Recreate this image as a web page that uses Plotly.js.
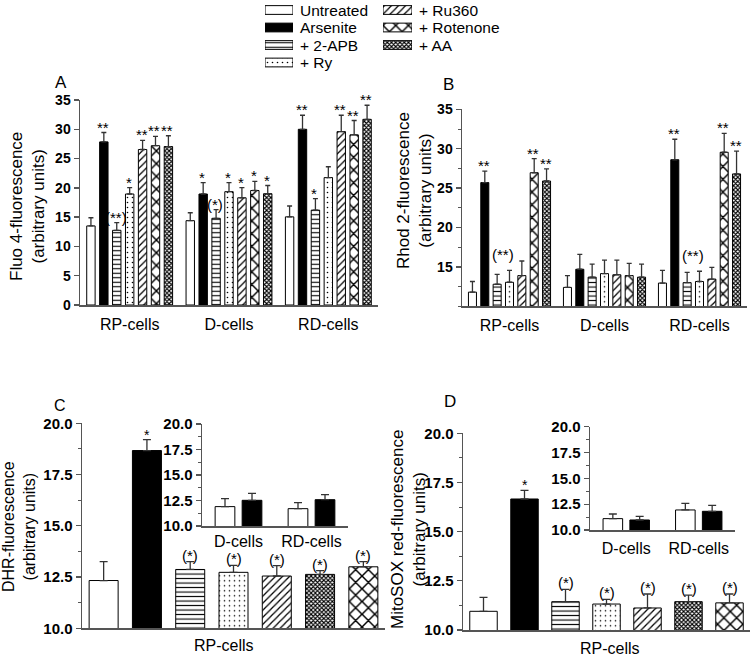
<!DOCTYPE html>
<html><head><meta charset="utf-8">
<script src="https://cdn.plot.ly/plotly-3.0.1.min.js"></script>
<style>html,body{margin:0;padding:0;background:#fff}</style>
</head><body><div id="chart" style="width:750px;height:656px"></div>
<script>
// ---------- DATA ----------
const treatments = ["Untreated", "Arsenite", "+ 2-APB", "+ Ry", "+ Ru360", "+ Rotenone", "+ AA"];
const cellTypes = ["RP-cells", "D-cells", "RD-cells"];
const insetCells = ["D-cells", "RD-cells"];
// order of the single-group panels C and D
const rpTreatments = ["Untreated", "Arsenite", "+ 2-APB", "+ Ry", "+ Ru360", "+ AA", "+ Rotenone"];
// legend columns
const legendCol1 = ["Untreated", "Arsenite", "+ 2-APB", "+ Ry"];
const legendCol2 = ["+ Ru360", "+ Rotenone", "+ AA"];

// Panel A: Fluo 4-fluorescence (treatment order as `treatments`)
const fluoRP = [13.5, 27.85, 12.75, 18.95, 26.55, 27.2, 27.05];
const fluoRPErr = [1.4, 1.6, 1.3, 1.1, 1.55, 1.6, 1.85];
const fluoD = [14.4, 18.95, 14.8, 19.35, 18.3, 19.55, 19.0];
const fluoDErr = [1.35, 1.95, 1.5, 1.55, 1.75, 1.55, 1.4];
const fluoRD = [15.05, 30.0, 16.2, 21.75, 29.6, 29.05, 31.7];
const fluoRDErr = [1.85, 2.4, 1.95, 1.85, 2.8, 2.45, 2.4];
const fluoStarsRP = ["", "**", "(**)", "*", "**", "**", "**"];
const fluoStarsD = ["", "*", "(*)", "*", "*", "*", "*"];
const fluoStarsRD = ["", "**", "*", "", "**", "**", "**"];

// Panel B: Rhod 2-fluorescence
const rhodRP = [11.8, 25.7, 12.8, 13.05, 13.9, 26.95, 25.9];
const rhodRPErr = [1.35, 1.45, 1.25, 1.5, 1.85, 1.8, 1.55];
const rhodD = [12.4, 14.7, 13.7, 14.15, 14.0, 13.9, 13.7];
const rhodDErr = [1.5, 1.9, 1.65, 1.7, 1.85, 1.55, 1.65];
const rhodRD = [12.95, 28.6, 13.0, 13.15, 13.45, 29.55, 26.8];
const rhodRDErr = [1.6, 2.6, 1.3, 1.3, 1.5, 2.4, 2.9];
const rhodStarsRP = ["", "**", "", "", "", "**", "**"];
const rhodStarsD = ["", "", "", "", "", "", ""];
const rhodStarsRD = ["", "**", "", "", "", "**", "**"];
const rhodPairLabel = "(**)";

// Panel C: DHR-fluorescence (order as `rpTreatments`)
const dhrRP = [12.33, 18.67, 12.87, 12.73, 12.55, 12.63, 13.0];
const dhrRPErr = [0.92, 0.53, 0.38, 0.34, 0.51, 0.18, 0.25];
const dhrStars = ["", "*", "(*)", "(*)", "(*)", "(*)", "(*)"];
const dhrInsetUntreated = [11.9, 11.7];
const dhrInsetUntreatedErr = [0.78, 0.59];
const dhrInsetArsenite = [12.52, 12.58];
const dhrInsetArseniteErr = [0.68, 0.49];

// Panel D: MitoSOX red-fluorescence
const mitoRP = [10.95, 16.66, 11.44, 11.32, 11.12, 11.44, 11.38];
const mitoRPErr = [0.71, 0.44, 0.63, 0.24, 0.71, 0.33, 0.45];
const mitoStars = ["", "*", "(*)", "(*)", "(*)", "(*)", "(*)"];
const mitoInsetUntreated = [11.1, 11.94];
const mitoInsetUntreatedErr = [0.45, 0.64];
const mitoInsetArsenite = [10.97, 11.81];
const mitoInsetArseniteErr = [0.35, 0.58];

// ---------- STYLE ----------
const FONT = "Liberation Sans, Arial, sans-serif";
const AX = "#555";
const ERR = "#333";
const style = {
  "Untreated": {shape: "", fill: "#ffffff"},
  "Arsenite": {shape: "", fill: "#000000"},
  "+ 2-APB": {shape: "-", size: 4.5, solidity: 0.25},
  "+ Ry": {shape: ".", size: 5, solidity: 0.08},
  "+ Ru360": {shape: "/", size: 5, solidity: 0.25},
  "+ Rotenone": {shape: "x", size: 9, solidity: 0.3},
  "+ AA": {shape: "x", size: 3, solidity: 0.6}
};
function marker(name) {
  const s = style[name];
  const m = {color: s.fill || "#ffffff", line: {color: "#000", width: 1}};
  if (s.shape) m.pattern = {shape: s.shape, size: s.size, solidity: s.solidity, fgcolor: "#000", bgcolor: "#fff", fillmode: "replace"};
  return m;
}
function errY(arr, w) {
  return {type: "data", symmetric: false, array: arr, arrayminus: arr.map(() => 0), color: ERR, thickness: 1.3, width: w};
}

const traces = [];
const annotations = [];

// grouped panels A and B
const nT = treatments.length;
const BARGAP = 0.09;
const slot = (1 - BARGAP) / nT;
function groupedPanel(xa, ya, rp, rpE, d, dE, rd, rdE, starsRP, starsD, starsRD) {
  const means = [rp, d, rd], errs = [rpE, dE, rdE], stars = [starsRP, starsD, starsRD];
  treatments.forEach((t, ti) => {
    traces.push({
      type: "bar", name: t, x: cellTypes, y: means.map(m => m[ti]),
      xaxis: xa, yaxis: ya, marker: marker(t),
      error_y: errY(errs.map(e => e[ti]), 2.5),
      showlegend: false, hoverinfo: "skip"
    });
    cellTypes.forEach((c, gi) => {
      const s = stars[gi][ti];
      if (!s) return;
      annotations.push({
        xref: xa, yref: ya, x: gi + (ti - (nT - 1) / 2) * slot, y: means[gi][ti] + errs[gi][ti],
        text: s, showarrow: false, yanchor: "bottom", xshift: -1, yshift: -5,
        font: {family: FONT, size: 15, color: "#000"}
      });
    });
  });
}
groupedPanel("x", "y", fluoRP, fluoRPErr, fluoD, fluoDErr, fluoRD, fluoRDErr, fluoStarsRP, fluoStarsD, fluoStarsRD);
groupedPanel("x2", "y2", rhodRP, rhodRPErr, rhodD, rhodDErr, rhodRD, rhodRDErr, rhodStarsRP, rhodStarsD, rhodStarsRD);
// pair label over 2-APB / Ry in B (RP and RD groups)
[0, 2].forEach(gi => {
  const m = gi === 0 ? rhodRP : rhodRD, e = gi === 0 ? rhodRPErr : rhodRDErr;
  annotations.push({
    xref: "x2", yref: "y2", x: gi + (2.5 - (nT - 1) / 2) * slot, y: Math.max(m[2] + e[2], m[3] + e[3]),
    text: rhodPairLabel, showarrow: false, yanchor: "bottom", yshift: 5,
    font: {family: FONT, size: 15, color: "#000"}
  });
});

// single-group panels C and D
function rpPanel(xa, ya, vals, errs, stars) {
  rpTreatments.forEach((t, ti) => {
    traces.push({
      type: "bar", name: t, x: [t], y: [vals[ti]], xaxis: xa, yaxis: ya,
      marker: marker(t), width: 0.67, error_y: errY([errs[ti]], 4),
      showlegend: false, hoverinfo: "skip"
    });
    if (stars[ti]) annotations.push({
      xref: xa, yref: ya, x: ti, y: vals[ti] + errs[ti], text: stars[ti], showarrow: false,
      yanchor: "bottom", yshift: ti === 1 ? -5 : -4, font: {family: FONT, size: ti === 1 ? 14 : 15, color: "#000"}
    });
  });
}
function insetPanel(xa, ya, un, unE, ar, arE) {
  traces.push({type: "bar", name: "Untreated", x: insetCells, y: un, xaxis: xa, yaxis: ya,
    marker: marker("Untreated"), width: 0.27, offset: -0.32, error_y: errY(unE, 4), showlegend: false, hoverinfo: "skip"});
  traces.push({type: "bar", name: "Arsenite", x: insetCells, y: ar, xaxis: xa, yaxis: ya,
    marker: marker("Arsenite"), width: 0.27, offset: 0.05, error_y: errY(arE, 4), showlegend: false, hoverinfo: "skip"});
}
rpPanel("x3", "y3", dhrRP, dhrRPErr, dhrStars);
insetPanel("x4", "y4", dhrInsetUntreated, dhrInsetUntreatedErr, dhrInsetArsenite, dhrInsetArseniteErr);
rpPanel("x5", "y5", mitoRP, mitoRPErr, mitoStars);
insetPanel("x6", "y6", mitoInsetUntreated, mitoInsetUntreatedErr, mitoInsetArsenite, mitoInsetArseniteErr);

// legend: wide patterned swatches drawn as horizontal bars, one row per treatment
function legendColumn(names, xa, ya, textX) {
  names.forEach((t, r) => {
    traces.push({type: "bar", orientation: "h", name: t, y: [r], x: [1], xaxis: xa, yaxis: ya,
      width: 0.5, marker: marker(t), showlegend: false, hoverinfo: "skip"});
    annotations.push({xref: "paper", yref: ya, x: textX / 750, y: r, text: t,
      showarrow: false, xanchor: "left", yanchor: "middle", font: {family: FONT, size: 15.5, color: "#000"}});
  });
}
legendColumn(legendCol1, "x7", "y7", 298);
legendColumn(legendCol2, "x8", "y8", 417);

// ---------- LAYOUT ----------
const W = 750, H = 656;
const dx = (a, b) => [a / W, b / W];
const dy = (top, bottom) => [1 - bottom / H, 1 - top / H];
function xAx(dom, anchor, opts) {
  return Object.assign({domain: dom, anchor: anchor, type: "category", showline: true, linecolor: AX, linewidth: 1.5,
    ticks: "", showgrid: false, zeroline: false, fixedrange: true,
    tickfont: {family: FONT, size: 16, color: "#000"}}, opts || {});
}
function yAx(dom, anchor, opts) {
  return Object.assign({domain: dom, anchor: anchor, showline: true, linecolor: AX, linewidth: 1.5,
    ticks: "outside", ticklen: 5, tickwidth: 1.3, tickcolor: AX, showgrid: false, zeroline: false, fixedrange: true,
    tickfont: {family: FONT, size: 14, color: "#000", weight: "bold"}}, opts || {});
}
const minor25 = {ticks: "outside", ticklen: 3, tickcolor: AX, tickwidth: 1, tickmode: "linear", tick0: 0, dtick: 2.5};
const minor125 = {ticks: "outside", ticklen: 3, tickcolor: AX, tickwidth: 1, tickmode: "linear", tick0: 0, dtick: 1.25};
const bold15 = {family: FONT, size: 15, color: "#000", weight: "bold"};
// legend rows: 17.5 px apart, first row centred 10 px below the top, axis spans 0..72 px
const legendRange = [(72 - 10) / 17.5, -10 / 17.5];
const hidden = {visible: false, fixedrange: true};

const layout = {
  width: W, height: H, margin: {l: 0, r: 0, t: 0, b: 0},
  paper_bgcolor: "#fff", plot_bgcolor: "rgba(0,0,0,0)",
  font: {family: FONT, color: "#000"}, showlegend: false,
  barmode: "group", bargap: BARGAP, bargroupgap: 0.35,
  xaxis: xAx(dx(80, 378), "y", {categoryarray: cellTypes, categoryorder: "array", ticklabelstandoff: 4}),
  yaxis: yAx(dy(100, 305), "x", {range: [0, 35], dtick: 5, tick0: 0}),
  xaxis2: xAx(dx(462, 747), "y2", {categoryarray: cellTypes, categoryorder: "array", ticklabelstandoff: 4}),
  yaxis2: yAx(dy(109.3, 306.3), "x2", {range: [10, 35], tickmode: "array", tickvals: [15, 20, 25, 30, 35], minor: minor25}),
  xaxis3: xAx(dx(82, 385), "y3", {categoryarray: rpTreatments, categoryorder: "array", showticklabels: false}),
  yaxis3: yAx(dy(423.3, 628.3), "x3", {range: [10, 20], dtick: 2.5, tick0: 10, tickformat: ".1f", minor: minor125, tickfont: bold15}),
  xaxis4: xAx(dx(202, 348), "y4", {categoryarray: insetCells, categoryorder: "array", ticklabelstandoff: 0}),
  yaxis4: yAx(dy(424, 526), "x4", {range: [10, 20], dtick: 2.5, tick0: 10, tickformat: ".1f", minor: minor125, tickfont: bold15}),
  xaxis5: xAx(dx(463, 750), "y5", {categoryarray: rpTreatments, categoryorder: "array", showticklabels: false}),
  yaxis5: yAx(dy(433.3, 630), "x5", {range: [10, 20], dtick: 2.5, tick0: 10, tickformat: ".1f", minor: minor125, tickfont: bold15}),
  xaxis6: xAx(dx(590, 735), "y6", {categoryarray: insetCells, categoryorder: "array", ticklabelstandoff: 3}),
  yaxis6: yAx(dy(426.7, 530), "x6", {range: [10, 20], dtick: 2.5, tick0: 10, tickformat: ".1f", minor: minor125, tickfont: bold15}),
  xaxis7: Object.assign({domain: dx(265, 293), anchor: "y7", range: [0, 1]}, hidden),
  yaxis7: Object.assign({domain: dy(0, 72), anchor: "x7", range: legendRange}, hidden),
  xaxis8: Object.assign({domain: dx(383, 412), anchor: "y8", range: [0, 1]}, hidden),
  yaxis8: Object.assign({domain: dy(0, 72), anchor: "x8", range: legendRange}, hidden),
  annotations: annotations
};

// panel letters, axis titles and group labels
function paperText(text, xpx, ypx, size, angle) {
  annotations.push({xref: "paper", yref: "paper", x: xpx / W, y: 1 - ypx / H, text: text, showarrow: false,
    xanchor: "center", yanchor: "middle", textangle: angle || 0, font: {family: FONT, size: size, color: "#000"}});
}
paperText("A", 61, 82, 17);
paperText("B", 448, 84, 17);
paperText("C", 60, 405, 16);
paperText("D", 450, 401, 17);
paperText("Fluo 4-fluorescence<br>(arbitrary units)", 27, 207, 17, -90);
paperText("Rhod 2-fluorescence<br>(arbitrary units)", 414, 191, 17, -90);
paperText("DHR-fluorescence<br>(arbitrary units)", 19, 527, 16, -90);
paperText("MitoSOX red-fluorescence<br>(arbitrary units)", 408, 530, 17, -90);
paperText("RP-cells", 224, 645, 16);
paperText("RP-cells", 610, 648, 16);

Plotly.newPlot("chart", traces, layout, {staticPlot: true, displayModeBar: false});
</script></body></html>
